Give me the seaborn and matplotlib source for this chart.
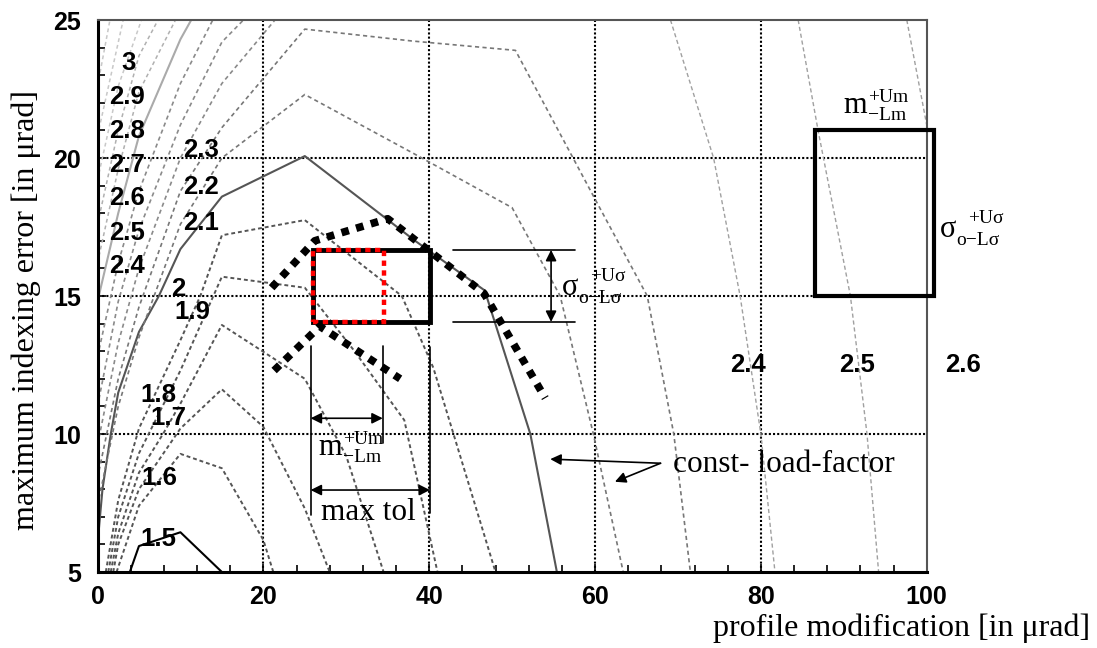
import matplotlib
matplotlib.use("Agg")
import matplotlib.pyplot as plt
from matplotlib.patches import Rectangle
from matplotlib.ticker import MultipleLocator
import seaborn as sns

# iso load-factor lines
# (x = profile modification, y = maximum indexing error, both in µrad)
lf15X = [3.9, 5, 10, 15]
lf15Y = [5, 5.94, 6.44, 5]
lf16X = [2.3, 5, 10, 15, 20, 21.2]
lf16Y = [5, 7.4, 9.28, 8.76, 6.16, 5]
lf17X = [1.9, 2.5, 5, 10, 15, 20, 25, 28]
lf17Y = [5, 6.0, 8.0, 10.2, 11.62, 10.26, 7.3, 5]
lf18X = [1.6, 2.5, 5, 7.9, 10, 15, 20, 25, 30, 34.5]
lf18Y = [5, 6.4, 8.6, 10.0, 11.1, 13.95, 12.98, 12.0, 9.2, 5]
lf19X = [1.3, 2.5, 5, 10, 15, 25, 31, 37, 41]
lf19Y = [5, 7.0, 9.3, 12.3, 15.7, 15.3, 13.0, 10.5, 5]
lf195X = [1.0, 2.5, 5, 10, 12.4, 15, 25, 36.7, 40.5, 48]
lf195Y = [5, 7.6, 10.2, 13.4, 15.0, 17.2, 17.75, 15.0, 12.4, 5]
lf20X = [0, 0.6, 1.6, 2.5, 5, 7.4, 10, 15, 25, 38.3, 46.7, 52.2, 55.4]
lf20Y = [6.0, 8.0, 10.0, 11.5, 13.7, 15.0, 16.7, 18.6, 20.07, 17.0, 15.2, 10.0, 5]
lfDX = [0, 2.5, 5, 10, 15, 25, 37.9, 50, 55.8, 59.8, 63.4]
lfDY = [7.4, 11.0, 13.5, 17.6, 20.0, 22.3, 20.2, 18.2, 15.0, 10.0, 5]
lfCX = [0, 2.5, 5, 10, 15, 25, 37.9, 50.4, 60.2, 66.3, 69.5, 71.5]
lfCY = [8.4, 12.0, 14.6, 18.8, 21.1, 24.67, 24.24, 23.9, 18.4, 15.0, 10.0, 5]
lfBX = [0, 2.5, 5, 10, 15, 21.4]
lfBY = [9.6, 13.3, 16.0, 20.0, 22.7, 25]
lfAX = [0, 2.5, 5, 10, 15, 17.6]
lfAY = [11.0, 14.8, 17.4, 21.2, 24.2, 25]
lfEX = [0, 2.5, 5, 10, 13.9]
lfEY = [12.8, 16.2, 18.8, 22.7, 25]
lfSX = [0, 2.5, 5, 10, 11.3]
lfSY = [14.8, 18.0, 20.8, 24.3, 25]
lfFX = [0, 2.5, 5, 9.4]
lfFY = [16.2, 19.6, 22.4, 25]
lfGX = [0, 2.5, 5, 7.3]
lfGY = [17.6, 21.0, 23.7, 25]
lfHX = [0, 2.5, 5.3]
lfHY = [19.2, 22.6, 25]
lfIX = [0, 3.1]
lfIY = [20.8, 25]
lfJX = [0, 1.5]
lfJY = [22.6, 25]
lf24X = [69.1, 74.3, 77.5, 80, 81.7]
lf24Y = [25, 20, 15, 10, 5]
lf25X = [84.5, 86.9, 90.8, 92.8, 94.2]
lf25Y = [25, 21, 15, 10, 5]
lf26X = [97.6, 100]
lf26Y = [25, 21.2]

# level labels
levelText = ["3", "2.9", "2.8", "2.7", "2.6", "2.5", "2.4", "2.3", "2.2", "2.1",
             "2", "1.9", "1.8", "1.7", "1.6", "1.5", "2.4", "2.5", "2.6"]
levelX = [3.7, 3.6, 3.6, 3.6, 3.6, 3.6, 3.6, 12.5, 12.5, 12.5,
          9.7, 11.4, 7.3, 8.6, 7.4, 7.4, 78.5, 91.6, 104.4]
levelY = [23.45, 22.2, 20.98, 19.75, 18.55, 17.3, 16.1, 20.3, 18.95, 17.65,
          15.25, 14.42, 11.41, 10.58, 8.4, 6.2, 12.5, 12.5, 12.5]

# design-window sketch
upperPathX = [21.0, 26.2, 35.0, 46.6, 54.0]
upperPathY = [15.3, 17.0, 17.8, 15.1, 11.3]
lowerPathX = [21.3, 26.8, 36.5]
lowerPathY = [12.3, 13.9, 12.0]
boxM = (26.0, 40.1)        # max tolerance in m
boxMred = (26.0, 34.6)     # chosen tolerance in m
boxSigma = (14.06, 16.67)
rightBoxM = (86.5, 100.9)
rightBoxSigma = (15.0, 21.0)

sns.set_theme(style="white")
plt.rcParams['font.family'] = ['Liberation Sans', 'DejaVu Sans']
plt.rcParams['text.color'] = 'black'
plt.rcParams['axes.labelcolor'] = 'black'
plt.rcParams['xtick.color'] = 'black'
plt.rcParams['ytick.color'] = 'black'
serif = ['Liberation Serif', 'DejaVu Serif']

fig = plt.figure(figsize=(10.97, 6.48), dpi=100)
ax = fig.add_axes([97.5 / 1097, 1 - 572 / 648, (926.7 - 97.5) / 1097, (572 - 20) / 648])


def drawLine(xs, ys, color, lw, ls):
    sns.lineplot(x=xs, y=ys, sort=False, estimator=None, color=color,
                 linewidth=lw, linestyle=ls, ax=ax)


darkDash = (0, (2, 1.5))
midDash = (0, (2.5, 2))
lightDash = (0, (3, 2))

drawLine(lf15X, lf15Y, 'black', 1.5, '-')
for xs, ys in [(lf16X, lf16Y), (lf17X, lf17Y), (lf18X, lf18Y), (lf19X, lf19Y), (lf195X, lf195Y)]:
    drawLine(xs, ys, '#555555', 1.4, darkDash)
drawLine(lf20X, lf20Y, '#555555', 1.5, '-')
for xs, ys in [(lfDX, lfDY), (lfCX, lfCY)]:
    drawLine(xs, ys, '#777777', 1.2, midDash)
for xs, ys in [(lfBX, lfBY), (lfAX, lfAY), (lfEX, lfEY)]:
    drawLine(xs, ys, '#8a8a8a', 1.2, midDash)
drawLine(lfSX, lfSY, '#aaaaaa', 1.5, '-')
for xs, ys in [(lfFX, lfFY), (lfGX, lfGY)]:
    drawLine(xs, ys, '#b0b0b0', 1.1, midDash)
for xs, ys in [(lfHX, lfHY), (lfIX, lfIY), (lfJX, lfJY)]:
    drawLine(xs, ys, '#c8c8c8', 1.1, midDash)
for xs, ys in [(lf24X, lf24Y), (lf25X, lf25Y), (lf26X, lf26Y)]:
    drawLine(xs, ys, '#a0a0a0', 1.0, lightDash)

# grid
for gx in [20, 40, 60, 80]:
    ax.axvline(gx, color='black', lw=1.5, linestyle=(0, (1, 1)), zorder=1.5)
for gy in [10, 15, 20]:
    ax.axhline(gy, color='black', lw=1.5, linestyle=(0, (1, 1)), zorder=1.5)

ax.set_xlim(0, 100)
ax.set_ylim(5, 25)
ax.set_xticks([0, 20, 40, 60, 80, 100])
ax.set_yticks([5, 10, 15, 20, 25])
ax.xaxis.set_minor_locator(MultipleLocator(4))
ax.yaxis.set_minor_locator(MultipleLocator(1))
ax.tick_params(which='both', direction='in', bottom=True, left=True, top=False, right=False,
               color='black', labelcolor='black', width=1.2)
ax.tick_params(which='major', length=6)
ax.tick_params(which='minor', length=5)
ax.tick_params(axis='x', pad=9)
ax.tick_params(axis='y', pad=12)
for lab in ax.get_xticklabels() + ax.get_yticklabels():
    lab.set_fontsize(18)
    lab.set_fontweight('bold')
ax.set_xlabel('')
ax.set_ylabel('')
for side in ['left', 'bottom']:
    ax.spines[side].set_linewidth(2.2)
    ax.spines[side].set_color('black')
for side in ['top', 'right']:
    ax.spines[side].set_linewidth(1.5)
    ax.spines[side].set_color('#555555')

# level labels
for s, lx, ly in zip(levelText, levelX, levelY):
    ax.text(lx, ly, s, ha='center', va='center', fontsize=18.5, fontweight='bold',
            color='black', zorder=8)

# tolerance window
ax.add_patch(Rectangle((boxM[0], boxSigma[0]), boxM[1] - boxM[0], boxSigma[1] - boxSigma[0],
                       fill=False, ec='black', lw=3.5, zorder=6))
ax.add_patch(Rectangle((boxMred[0], boxSigma[0]), boxMred[1] - boxMred[0], boxSigma[1] - boxSigma[0],
                       fill=False, ec='red', lw=3.2, linestyle=(0, (1.2, 1.0)), zorder=7))
sns.lineplot(x=upperPathX, y=upperPathY, sort=False, estimator=None, color='black',
             linewidth=5.5, linestyle=(0, (1, 1)), ax=ax, zorder=7)
sns.lineplot(x=lowerPathX, y=lowerPathY, sort=False, estimator=None, color='black',
             linewidth=5.5, linestyle=(0, (1, 1)), ax=ax, zorder=7)

ax.add_patch(Rectangle((rightBoxM[0], rightBoxSigma[0]), rightBoxM[1] - rightBoxM[0],
                       rightBoxSigma[1] - rightBoxSigma[0], fill=False, ec='black', lw=3,
                       zorder=6, clip_on=False))

# dimension lines
ax.plot([25.7, 25.7], [13.2, 7.07], color='black', lw=1.2, zorder=6)
ax.plot([34.4, 34.4], [13.2, 9.67], color='black', lw=1.2, zorder=6)
ax.plot([40.1, 40.1], [13.16, 7.13], color='black', lw=1.2, zorder=6)
arrowKw = dict(arrowstyle='<|-|>', color='black', lw=1.2, shrinkA=0, shrinkB=0, mutation_scale=16)
ax.annotate('', xy=(25.7, 10.57), xytext=(34.4, 10.57), arrowprops=arrowKw, zorder=6)
ax.annotate('', xy=(25.7, 7.97), xytext=(40.1, 7.97), arrowprops=arrowKw, zorder=6)
ax.plot([42.9, 57.6], [16.67, 16.67], color='black', lw=1.2, zorder=6)
ax.plot([42.9, 57.6], [14.06, 14.06], color='black', lw=1.2, zorder=6)
ax.annotate('', xy=(54.7, 16.67), xytext=(54.7, 14.06), arrowprops=arrowKw, zorder=6)

oneWay = dict(arrowstyle='-|>', color='black', lw=1.2, shrinkA=0, shrinkB=0, mutation_scale=16)
ax.annotate('', xy=(54.6, 9.09), xytext=(67.9, 8.94), arrowprops=oneWay, zorder=6)
ax.annotate('', xy=(62.4, 8.27), xytext=(67.9, 8.94), arrowprops=oneWay, zorder=6)
ax.text(69.4, 8.63, 'const- load-factor', family=serif, fontsize=22.5, va='baseline', ha='left',
        color='black')
ax.text(27.0, 6.88, 'max tol', family=serif, fontsize=22.5, va='baseline', ha='left', color='black')


def scriptLabel(x, y, base, sup, sub, supDx, subDx, supDy, subDy):
    ax.text(x, y, base, family=serif, fontsize=22, va='baseline', ha='left', color='black', zorder=9)
    ax.annotate(sup, (x, y), xytext=(supDx, supDy), textcoords='offset points', color='black',
                family=serif, fontsize=14, va='baseline', ha='left', zorder=9, annotation_clip=False)
    ax.annotate(sub, (x, y), xytext=(subDx, subDy), textcoords='offset points', color='black',
                family=serif, fontsize=14, va='baseline', ha='left', zorder=9, annotation_clip=False)


scriptLabel(26.6, 9.24, 'm', '+Um', '\u2212Lm', 18, 18, 8, -5)
scriptLabel(89.9, 21.62, 'm', '+Um', '\u2212Lm', 18, 18, 8, -5)
scriptLabel(56.0, 15.04, '\u03c3', '+U\u03c3', 'o\u2212L\u03c3', 20, 12, 10, -5.5)
scriptLabel(101.6, 17.13, '\u03c3', '+U\u03c3', 'o\u2212L\u03c3', 20, 12, 10, -5.5)

fig.text(26 / 1097, 1 - 310 / 648, 'maximum indexing error [in \u03bcrad]', family=serif,
         fontsize=23, rotation=90, ha='center', va='center', color='black')
fig.text(1090 / 1097, 1 - 636 / 648, 'profile modification [in \u03bcrad]', family=serif,
         fontsize=23, ha='right', va='baseline', color='black')

fig.savefig('out.png', dpi=100)
